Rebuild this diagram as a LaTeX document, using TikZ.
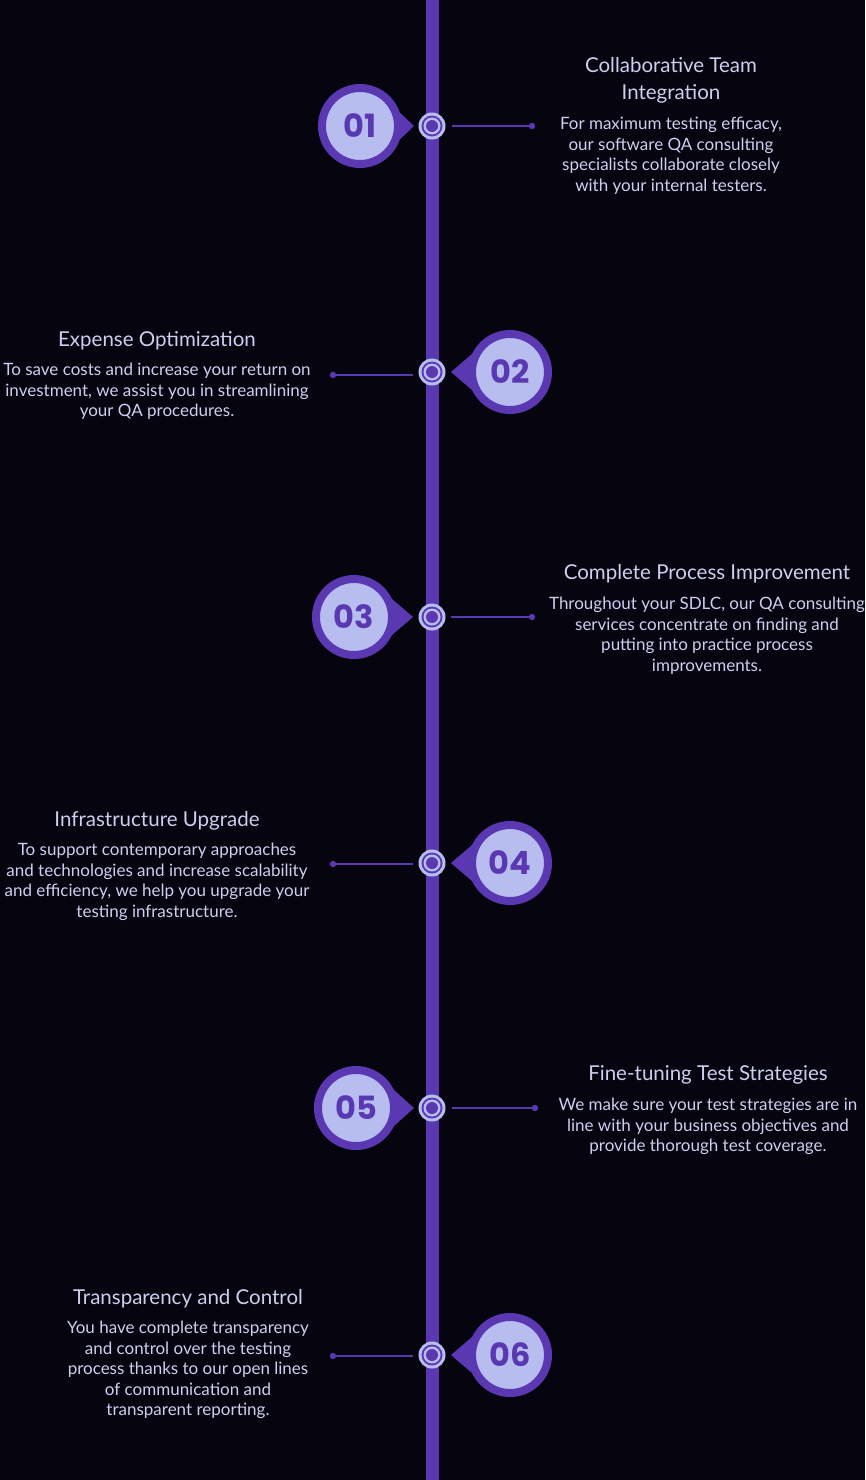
\documentclass[tikz,border=0pt]{standalone}
\usepackage{fontspec}
\setmainfont{Lato}
\newfontfamily\numfont{Poppins}[Scale=1]
\definecolor{bg}{HTML}{05040F}
\definecolor{pur}{HTML}{5A38B2}
\definecolor{lite}{HTML}{B8BDF0}
\definecolor{txt}{HTML}{CDCFF0}
\begin{document}
\begin{tikzpicture}[x=1pt,y=-1pt,
  ttl/.style={text=txt,font=\fontsize{20.5}{27}\selectfont,align=center,inner sep=0pt},
  bdy/.style={text=txt,font=\fontsize{17}{20.5}\selectfont,align=center,inner sep=0pt},
  num/.style={circle,fill=lite,draw=pur,line width=8pt,minimum size=76pt,inner sep=0pt,text=pur,font=\numfont\bfseries\fontsize{32}{34}\selectfont},
  conn/.style={pur,line width=1.2pt}]
\fill[bg] (0,0) rectangle (865,1480);
\useasboundingbox (0,0) rectangle (865,1480);
\fill[pur] (426,0) rectangle (439,1480);
\def\mk#1#2{%
  \fill[lite] (432,#2) circle (13.5);
  \fill[pur] (432,#2) circle (10.5);
  \fill[lite] (432,#2) circle (8.5);
  \fill[pur] (432,#2) circle (6);
  \coordinate (m#1) at (432,#2);}
% item 01
\mk{1}{126}
\fill[pur] (395,108) -- (414,126) -- (395,144) -- cycle;
\node[num] (n1) at (360,126) {01};
\coordinate (e1) at (532,126);
\draw[conn] (452,126) -- (e1); \fill[pur] (e1) circle (3.2);
\node[ttl,anchor=north] (t1) at (671,57) {Collaborative Team\\Integration};
\node[bdy,anchor=north] (b1) at (671,117) {For maximum testing efficacy,\\our software QA consulting\\specialists collaborate closely\\with your internal testers.};
% item 02
\mk{2}{372}
\fill[pur] (472,354) -- (451,372) -- (472,390) -- cycle;
\node[num] (n2) at (510,372) {02};
\coordinate (e2) at (333,375);
\draw[conn] (e2) -- (413,375); \fill[pur] (e2) circle (3.2);
\node[ttl,anchor=base] (t2) at (157,346) {Expense Optimization};
\node[bdy,anchor=north] (b2) at (157,363) {To save costs and increase your return on\\investment, we assist you in streamlining\\your QA procedures.};
% item 03
\mk{3}{617}
\fill[pur] (392,599) -- (413,617) -- (392,635) -- cycle;
\node[num] (n3) at (354,617) {03};
\coordinate (e3) at (532,617);
\draw[conn] (451,617) -- (e3); \fill[pur] (e3) circle (3.2);
\node[ttl,anchor=base] (t3) at (707,579) {Complete Process Improvement};
\node[bdy,anchor=north] (b3) at (707,597) {Throughout your SDLC, our QA consulting\\services concentrate on finding and\\putting into practice process\\improvements.};
% item 04
\mk{4}{863}
\fill[pur] (472,845) -- (451,863) -- (472,881) -- cycle;
\node[num] (n4) at (510,863) {04};
\coordinate (e4) at (333,864);
\draw[conn] (e4) -- (413,864); \fill[pur] (e4) circle (3.2);
\node[ttl,anchor=base] (t4) at (157,826) {Infrastructure Upgrade};
\node[bdy,anchor=north] (b4) at (157,843) {To support contemporary approaches\\and technologies and increase scalability\\and efficiency, we help you upgrade your\\testing infrastructure.};
% item 05
\mk{5}{1108}
\fill[pur] (394,1090) -- (414,1108) -- (394,1126) -- cycle;
\node[num] (n5) at (356,1108) {05};
\coordinate (e5) at (535,1108);
\draw[conn] (452,1108) -- (e5); \fill[pur] (e5) circle (3.2);
\node[ttl,anchor=base] (t5) at (708,1080) {Fine-tuning Test Strategies};
\node[bdy,anchor=north] (b5) at (708,1098) {We make sure your test strategies are in\\line with your business objectives and\\provide thorough test coverage.};
% item 06
\mk{6}{1355}
\fill[pur] (472,1337) -- (451,1355) -- (472,1373) -- cycle;
\node[num] (n6) at (510,1355) {06};
\coordinate (e6) at (333,1356);
\draw[conn] (e6) -- (413,1356); \fill[pur] (e6) circle (3.2);
\node[ttl,anchor=base] (t6) at (188,1304) {Transparency and Control};
\node[bdy,anchor=north] (b6) at (188,1321) {You have complete transparency\\and control over the testing\\process thanks to our open lines\\of communication and\\transparent reporting.};
\end{tikzpicture}
\end{document}
